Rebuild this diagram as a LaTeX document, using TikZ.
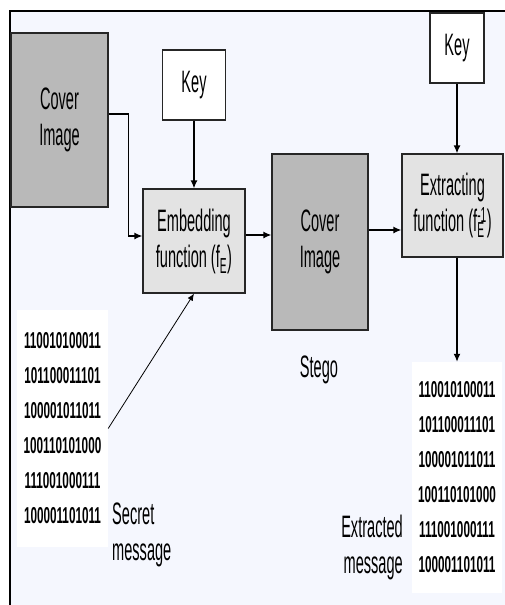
\documentclass[tikz,border=0pt]{standalone}
\usepackage{fontspec}
\newfontfamily\narrowsf[FakeStretch=0.47]{Liberation Sans}
\newfontfamily\bitsf[FakeStretch=0.51]{Liberation Sans}
\usetikzlibrary{arrows.meta}
\definecolor{pagebg}{HTML}{F5F7FE}
\definecolor{covergray}{HTML}{B9B9B9}
\definecolor{funcgray}{HTML}{E3E3E3}

\begin{document}
\begin{tikzpicture}[x=1pt,y=-1pt,
        lbl/.style={inner sep=0pt,align=center,font=\narrowsf\fontsize{31}{36}\selectfont},
        box/.style={lbl,draw=black!85,line width=1.3pt},
        bits/.style={fill=white,inner sep=0pt,align=center,font=\bitsf\bfseries\fontsize{23}{35}\selectfont},
        conn/.style={line width=1.3pt,-{Latex[length=8pt,width=7pt]}}]
    \useasboundingbox (0,0) rectangle (504,605);
    \fill[white] (0,0) rectangle (504,605);
    \fill[pagebg] (10,11) rectangle (510,611);
    \draw[line width=2.5pt] (10,611) -- (10,11) -- (510,11);

    \node[box,fill=covergray,minimum width=97pt,minimum height=174pt] (cov1) at (59.5,120) {Cover\\Image};
    \node[box,fill=white,minimum width=63pt,minimum height=70pt] (key1) at (194,85) {Key};
    \node[box,fill=funcgray,minimum width=102pt,minimum height=104pt] (embed) at (194,241)
        {Embedding\\function (f\textsubscript{E})};
    \node[box,fill=covergray,minimum width=96pt,minimum height=176pt] (cov2) at (320,242) {Cover\\Image};
    \node[box,fill=funcgray,minimum width=101pt,minimum height=103pt] (extr) at (452.5,205.5)
        {Extracting\\function (f\rlap{\textsubscript{E}}\textsuperscript{-1})};
    \node[box,fill=white,minimum width=54pt,minimum height=70pt] (key2) at (457,48) {Key};
    \node[lbl] (stego) at (319,370) {Stego};

    \node[bits,minimum width=91pt,minimum height=237pt] (inbits) at (62.5,428.5)
        {110010100011\\101100011101\\100001011011\\100110101000\\111001000111\\100001101011};
    \node[lbl,align=left,anchor=west] (secret) at (112,535) {Secret\\message};
    \node[bits,minimum width=90pt,minimum height=231pt] (outbits) at (457,477.5)
        {110010100011\\101100011101\\100001011011\\100110101000\\111001000111\\100001101011};
    \node[lbl,align=right,anchor=east] (extracted) at (403,547) {Extracted\\message};

    \draw[conn] ([yshift=6pt]cov1.east) -- ++(20,0) |- ([yshift=5pt]embed.west);
    \draw[conn] (key1) -- (embed);
    \draw[conn] ([yshift=6pt]embed.east) coordinate (e1) -- (e1 -| cov2.west);
    \draw[conn] ([yshift=12pt]cov2.east) coordinate (c2) -- (c2 -| extr.west);
    \draw[conn] (key2) -- (key2 |- extr.north);
    \draw[conn] (key2 |- extr.south) -- (outbits);
    \draw[line width=0.8pt,-{Latex[length=7pt,width=6pt]}] (inbits.east) -- (embed.south);
\end{tikzpicture}
\end{document}
